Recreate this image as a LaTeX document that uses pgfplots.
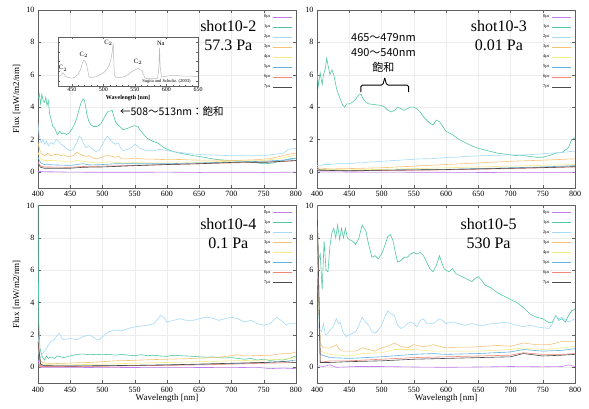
\documentclass[border=0pt]{standalone}
\usepackage{fontspec}
\setmainfont{Liberation Serif}
\newfontfamily\cjk{Noto Sans CJK JP}
\usepackage{pgfplots}
\pgfplotsset{compat=1.18}

\definecolor{c0}{RGB}{196,125,240}
\definecolor{c1}{RGB}{80,200,160}
\definecolor{c2}{RGB}{165,218,246}
\definecolor{c3}{RGB}{245,195,115}
\definecolor{c4}{RGB}{245,235,130}
\definecolor{c5}{RGB}{95,178,225}
\definecolor{c6}{RGB}{240,135,120}
\definecolor{c7}{RGB}{75,75,75}

\pgfplotsset{
  panel/.style={
    scale only axis, width=258pt, height=178pt,
    xmin=400, xmax=800, ymin=-1, ymax=10,
    xtick={400,450,...,800}, ytick={0,2,...,10},
    grid=major, major grid style={draw=gray!14, line width=0.4pt},
    axis line style={draw=gray!75!black, line width=0.5pt},
    tick style={draw=gray!75!black, line width=0.4pt},
    major tick length=3pt, tick align=inside,
    ticklabel style={font=\fontsize{8}{9}\selectfont},
    /pgf/number format/assume math mode=true,
    legend style={draw=none, fill=none, at={(0.985,0.985)}, anchor=north east,
      font=\fontsize{4.5}{5}\selectfont, row sep=1.5pt, inner sep=0pt},
    legend plot pos=right, legend cell align=right,
    legend image code/.code={\draw[#1, line width=0.5pt] (0pt,0pt) -- (19pt,0pt);},
    every axis plot/.append style={line width=0.6pt},
    cycle list={{c0},{c1},{c2},{c3},{c4},{c5},{c6},{c7}},
    xlabel style={font=\fontsize{9}{10}\selectfont},
  },
  botxlab/.style={xlabel={Wavelength [nm]},
    xlabel style={at={(axis description cs:0.5,-0.0815)}, anchor=center}},
}

\begin{document}
\begin{tikzpicture}
\useasboundingbox (0,0) rectangle (589pt,409pt);

\node[rotate=90, font=\fontsize{9}{10}\selectfont] at (16.7pt,310pt) {Flux [mW/m2/nm]};
\node[rotate=90, font=\fontsize{9}{10}\selectfont] at (16.7pt,114.5pt) {Flux [mW/m2/nm]};

%% ---------------- shot10-2 -----------------
\begin{axis}[panel, at={(38pt,221pt)}, anchor=south west]
\addplot coordinates {(400,0.02)(450,-0.02)(500,-0.03)(550,-0.03)(600,-0.02)(650,-0.04)(700,-0.03)(750,-0.04)(800,-0.02)};
\addplot coordinates {(400,4.5)(402,4.8)(404,4.2)(406,4.8)(408,4.4)(410,4.3)(412,4.6)(414,4.1)(416,4.4)(418,3.6)(420,3.3)(423,2.8)(426,2.7)(430,2.3)(434,2.5)(437,2.35)(440,2.4)(444,2.3)(448,2.4)(452,2.6)(456,2.9)(460,3.3)(464,3.9)(467,4.3)(470,4.5)(472,4.4)(474,4.0)(476,3.5)(479,3.1)(482,2.9)(486,2.8)(490,2.8)(494,2.85)(498,3.0)(502,3.3)(506,3.6)(509,3.75)(513,3.75)(515,3.8)(517,3.5)(520,3.1)(524,2.9)(528,2.75)(532,2.6)(536,2.65)(540,2.7)(545,2.8)(550,2.85)(555,2.8)(558,2.6)(562,2.4)(566,2.2)(570,2.05)(575,1.95)(580,1.85)(585,1.8)(590,1.65)(595,1.5)(600,1.4)(610,1.25)(620,1.15)(630,1.08)(640,1.0)(650,0.95)(660,0.88)(670,0.8)(680,0.75)(690,0.72)(700,0.7)(710,0.68)(720,0.65)(730,0.6)(740,0.55)(750,0.5)(760,0.52)(770,0.6)(780,0.7)(790,0.8)(800,0.85)};
\addplot coordinates {(400,3.0)(402,2.2)(405,1.8)(408,2.0)(410,1.7)(413,1.9)(416,1.6)(420,1.8)(424,1.7)(428,2.0)(432,1.9)(436,1.7)(440,1.6)(445,1.4)(450,1.3)(455,1.4)(460,1.8)(464,2.2)(467,2.1)(470,1.8)(474,1.5)(478,1.6)(482,1.5)(486,1.35)(490,1.25)(495,1.35)(500,1.7)(504,2.0)(508,2.2)(512,2.0)(516,1.8)(520,1.7)(524,1.8)(528,1.5)(532,1.3)(536,1.35)(540,1.4)(545,1.5)(550,1.7)(554,1.6)(558,1.45)(565,1.35)(570,1.3)(580,1.3)(590,1.4)(595,1.35)(600,1.3)(610,1.25)(620,1.2)(640,1.1)(660,1.05)(680,1.02)(700,1.0)(720,1.0)(740,1.0)(750,1.0)(760,1.05)(770,1.1)(780,1.15)(790,1.4)(800,1.45)};
\addplot coordinates {(400,1.8)(403,1.3)(406,1.1)(410,1.0)(415,1.15)(420,1.0)(425,1.05)(430,1.1)(435,1.0)(440,1.05)(445,0.95)(450,0.95)(455,1.0)(460,1.2)(465,1.1)(470,1.0)(475,0.95)(480,1.0)(485,0.85)(490,0.8)(495,0.85)(500,0.9)(505,1.0)(510,1.0)(515,0.95)(520,0.9)(525,0.95)(530,0.8)(540,0.8)(550,0.85)(560,0.8)(570,0.78)(580,0.78)(600,0.75)(620,0.76)(640,0.73)(660,0.72)(680,0.72)(700,0.7)(720,0.72)(740,0.75)(760,0.82)(780,1.0)(790,1.1)(800,1.15)};
\addplot coordinates {(400,1.2)(404,0.8)(410,0.7)(420,0.7)(430,0.68)(440,0.65)(450,0.6)(460,0.7)(470,0.65)(480,0.6)(490,0.55)(500,0.58)(510,0.62)(520,0.58)(530,0.55)(550,0.58)(570,0.6)(600,0.6)(650,0.6)(700,0.65)(750,0.7)(770,0.8)(790,0.95)(800,1.05)};
\addplot coordinates {(400,0.9)(404,0.55)(410,0.45)(430,0.42)(450,0.4)(460,0.45)(470,0.5)(480,0.42)(500,0.45)(520,0.5)(550,0.5)(600,0.5)(650,0.55)(700,0.6)(750,0.65)(780,0.72)(800,0.82)};
\addplot coordinates {(400,0.6)(404,0.35)(410,0.3)(450,0.28)(470,0.33)(500,0.35)(550,0.4)(600,0.45)(650,0.5)(700,0.55)(750,0.6)(800,0.68)};
\addplot coordinates {(400,0.5)(404,0.28)(410,0.22)(450,0.22)(470,0.28)(500,0.3)(550,0.38)(600,0.45)(650,0.5)(700,0.58)(720,0.6)(750,0.58)(800,0.7)};
\legend{0μs,1μs,2μs,3μs,4μs,5μs,6μs,7μs}
\node[font=\fontsize{16}{19}\selectfont, align=center] at (axis cs:695,8.42) {shot10-2\\57.3 Pa};
\node[font=\cjk\fontsize{10.5}{12}\selectfont, anchor=west, inner sep=0pt] at (axis cs:527,3.7) {←508～513nm：飽和};
\end{axis}

%% inset
\begin{axis}[scale only axis, width=140pt, height=49pt, at={(58pt,323pt)}, anchor=south west,
  xmin=428, xmax=650, ymin=0, ymax=1,
  xtick={450,500,...,650}, minor x tick num=4, ytick={0.1,0.3,0.5,0.7,0.9}, yticklabels={},
  tick align=inside, major tick length=2pt, minor tick length=1pt,
  axis line style={draw=gray!75!black, line width=0.5pt}, tick style={draw=gray!75!black, line width=0.3pt},
  ticklabel style={font=\fontsize{6}{7}\selectfont, inner sep=1.5pt},
  /pgf/number format/assume math mode=true,
  axis background/.style={fill=white},
  xlabel={\textbf{Wavelength [nm]}}, xlabel style={font=\fontsize{6}{7}\selectfont, at={(axis description cs:0.5,0)}, yshift=-12pt, anchor=center},
  clip=true]
\addplot[gray!55, line width=0.5pt] coordinates {(430,0.2)(433,0.22)(436,0.27)(438,0.24)(440,0.19)(445,0.17)(450,0.16)(455,0.18)(460,0.24)(464,0.35)(467,0.48)(469,0.53)(471,0.5)(473,0.45)(475,0.33)(477,0.2)(480,0.17)(485,0.18)(490,0.2)(495,0.23)(500,0.27)(505,0.33)(509,0.42)(512,0.55)(514,0.7)(515.5,0.88)(516.5,0.5)(517.5,0.22)(520,0.18)(525,0.17)(530,0.18)(535,0.2)(540,0.24)(545,0.29)(550,0.33)(555,0.36)(558,0.33)(561,0.32)(563,0.25)(566,0.16)(570,0.15)(575,0.15)(580,0.15)(586,0.16)(588,0.4)(589,0.78)(590,0.4)(592,0.18)(600,0.2)(610,0.22)(620,0.21)(630,0.2)(640,0.2)(650,0.19)};
\node[font=\fontsize{6.5}{7}\selectfont] at (axis cs:436,0.36) {C$_2$};
\node[font=\fontsize{6.5}{7}\selectfont] at (axis cs:469,0.64) {C$_2$};
\node[font=\fontsize{6.5}{7}\selectfont] at (axis cs:508,0.88) {C$_2$};
\node[font=\fontsize{6.5}{7}\selectfont] at (axis cs:555,0.49) {C$_2$};
\node[font=\fontsize{6.5}{7}\selectfont] at (axis cs:591,0.86) {Na};
\node[font=\fontsize{4.5}{5}\selectfont] at (axis cs:600,0.1) {Sugita and Schultz. (2003)};
\end{axis}

%% ---------------- shot10-3 -----------------
\begin{axis}[panel, at={(317pt,221pt)}, anchor=south west]
\addplot coordinates {(400,0.0)(500,-0.02)(600,-0.03)(700,-0.05)(800,-0.05)};
\addplot coordinates {(400,6.2)(402,5.3)(405,6.1)(408,5.4)(410,6.0)(413,6.4)(415,7.0)(417,6.6)(420,6.0)(423,6.3)(426,6.0)(430,5.2)(433,4.8)(436,4.5)(440,4.1)(443,4.0)(446,4.2)(450,4.2)(455,4.3)(460,4.5)(465,4.75)(468,4.8)(472,4.5)(476,4.3)(480,4.2)(490,4.15)(500,4.1)(505,4.0)(510,3.8)(515,3.7)(520,3.8)(525,4.0)(530,3.9)(535,3.8)(540,3.9)(545,4.0)(550,4.0)(555,3.9)(560,3.7)(565,3.4)(570,3.2)(575,3.0)(580,2.9)(585,3.2)(590,3.1)(595,2.8)(600,2.5)(610,2.3)(620,2.0)(630,1.8)(640,1.6)(650,1.45)(660,1.35)(670,1.25)(680,1.15)(690,1.1)(700,1.05)(710,1.0)(720,1.0)(730,0.95)(740,0.9)(750,0.9)(760,1.0)(770,1.15)(780,1.2)(790,1.5)(795,2.0)(800,2.1)};
\addplot coordinates {(400,0.4)(405,0.35)(410,0.45)(420,0.45)(430,0.5)(440,0.5)(450,0.5)(460,0.55)(470,0.55)(480,0.6)(490,0.62)(500,0.65)(520,0.7)(540,0.75)(560,0.8)(580,0.82)(600,0.88)(620,0.92)(640,0.97)(660,1.0)(680,1.02)(700,1.05)(720,1.05)(740,1.08)(760,1.15)(780,1.2)(800,1.28)};
\addplot coordinates {(400,0.25)(420,0.18)(450,0.2)(500,0.25)(550,0.35)(600,0.45)(650,0.55)(700,0.65)(750,0.72)(800,0.8)};
\addplot coordinates {(400,0.15)(450,0.12)(500,0.15)(550,0.2)(600,0.25)(650,0.3)(700,0.35)(750,0.4)(800,0.45)};
\addplot coordinates {(400,0.12)(450,0.08)(500,0.1)(550,0.12)(600,0.15)(650,0.2)(700,0.25)(750,0.3)(800,0.38)};
\addplot coordinates {(400,0.3)(405,0.1)(450,0.06)(500,0.08)(550,0.1)(600,0.12)(650,0.16)(700,0.2)(750,0.25)(800,0.3)};
\addplot coordinates {(400,0.1)(450,0.06)(500,0.1)(550,0.12)(600,0.14)(650,0.18)(700,0.22)(750,0.26)(800,0.32)};
\legend{0μs,1μs,2μs,3μs,4μs,5μs,6μs,7μs}
\node[font=\fontsize{16}{19}\selectfont, align=center] at (axis cs:682,8.42) {shot10-3\\0.01 Pa};
\node[font=\cjk\fontsize{11}{15}\selectfont, align=center] at (axis cs:503,7.36) {465～479nm\\490～540nm\\飽和};
\draw[line width=0.9pt, rounded corners=1.5pt] (axis cs:468,4.93) -- (axis cs:468,5.36) -- (axis cs:502,5.36) -- (axis cs:505,5.8);
\draw[line width=0.9pt, rounded corners=1.5pt] (axis cs:505,5.8) -- (axis cs:508,5.36) -- (axis cs:542,5.36) -- (axis cs:542,4.93);
\end{axis}

%% ---------------- shot10-4 -----------------
\begin{axis}[panel, botxlab, at={(38pt,25.5pt)}, anchor=south west]
\addplot coordinates {(400,0.5)(403,0.0)(450,0.0)(500,-0.02)(600,0.0)(700,-0.02)(740,0.0)(760,-0.08)(780,-0.05)(800,-0.08)};
\addplot coordinates {(400,10.5)(401,3)(403,1.2)(406,0.7)(410,0.45)(413,0.7)(416,0.55)(420,0.65)(425,0.55)(430,0.7)(440,0.6)(450,0.7)(460,0.8)(470,0.82)(480,0.78)(490,0.8)(500,0.78)(510,0.8)(520,0.75)(530,0.8)(540,0.75)(550,0.72)(560,0.78)(570,0.72)(580,0.75)(590,0.7)(600,0.68)(610,0.75)(620,0.72)(630,0.7)(640,0.68)(650,0.65)(660,0.62)(670,0.65)(680,0.6)(690,0.58)(700,0.6)(710,0.55)(720,0.5)(730,0.55)(740,0.45)(750,0.5)(760,0.42)(770,0.48)(780,0.45)(790,0.55)(800,0.7)};
\addplot coordinates {(400,2.0)(403,0.5)(406,0.8)(410,1.0)(415,1.3)(420,1.6)(425,1.7)(430,2.0)(433,2.1)(437,1.8)(440,1.7)(450,1.8)(460,1.7)(470,1.9)(480,2.0)(490,1.75)(495,1.7)(500,1.9)(510,2.2)(520,2.3)(530,2.25)(540,2.4)(550,2.5)(560,2.55)(570,2.6)(580,2.7)(590,3.2)(595,3.1)(600,2.8)(610,2.9)(620,3.0)(630,2.9)(640,2.9)(650,3.0)(660,3.1)(670,3.05)(680,2.9)(690,3.0)(700,3.1)(710,3.0)(720,2.8)(730,2.9)(740,2.7)(750,2.6)(760,2.7)(770,3.1)(780,2.8)(785,2.6)(790,2.7)(800,2.7)};
\addplot coordinates {(400,1.6)(403,0.5)(406,0.3)(420,0.22)(440,0.25)(460,0.28)(480,0.3)(500,0.35)(520,0.4)(540,0.42)(560,0.45)(580,0.48)(600,0.5)(620,0.52)(640,0.55)(660,0.58)(680,0.62)(700,0.72)(710,0.78)(720,0.7)(740,0.72)(760,0.75)(780,0.85)(790,0.85)(800,0.95)};
\addplot coordinates {(400,1.3)(404,0.2)(420,0.15)(450,0.15)(500,0.2)(550,0.25)(600,0.3)(650,0.35)(700,0.4)(750,0.45)(780,0.5)(800,0.6)};
\addplot coordinates {(400,1.2)(404,0.1)(450,0.08)(500,0.1)(550,0.12)(600,0.15)(650,0.18)(700,0.22)(750,0.3)(780,0.35)(800,0.45)};
\addplot coordinates {(400,1.4)(404,0.05)(450,0.05)(500,0.06)(550,0.1)(600,0.12)(650,0.15)(700,0.2)(750,0.25)(800,0.3)};
\addplot coordinates {(400,1.6)(404,0.2)(410,0.1)(450,0.08)(500,0.1)(550,0.12)(600,0.15)(650,0.2)(700,0.25)(750,0.3)(780,0.35)(800,0.3)};
\legend{0μs,1μs,2μs,3μs,4μs,5μs,6μs,7μs}
\node[font=\fontsize{16}{19}\selectfont, align=center] at (axis cs:695,8.26) {shot10-4\\0.1 Pa};
\end{axis}

%% ---------------- shot10-5 -----------------
\begin{axis}[panel, botxlab, at={(317pt,25.5pt)}, anchor=south west]
\addplot coordinates {(400,0.1)(410,0.05)(420,0.15)(430,0.0)(460,0.05)(500,0.05)(550,0.02)(600,0.0)(650,0.02)(700,0.05)(750,0.03)(780,0.05)(790,0.15)(800,0.05)};
\addplot coordinates {(400,10.5)(402,6.6)(405,7.0)(408,4.8)(411,7.8)(414,6.0)(417,5.9)(420,7.5)(423,8.3)(426,8.6)(429,8.0)(432,8.8)(435,7.9)(438,8.6)(441,8.0)(444,8.6)(447,8.0)(450,7.9)(455,7.8)(460,7.6)(465,8.0)(470,8.8)(473,8.6)(476,8.4)(480,7.6)(485,6.8)(490,6.9)(495,6.7)(500,7.0)(505,7.5)(510,8.1)(514,8.2)(518,7.8)(522,7.0)(525,6.5)(530,6.6)(535,6.8)(540,6.8)(545,7.0)(550,7.1)(555,7.0)(560,7.1)(565,6.9)(570,6.5)(575,6.1)(580,5.9)(585,6.3)(590,6.9)(593,6.5)(597,6.1)(600,6.0)(605,5.9)(610,6.1)(615,5.8)(620,5.7)(630,5.5)(640,5.3)(645,5.5)(650,5.6)(655,5.4)(660,5.1)(670,4.9)(680,4.6)(690,4.4)(700,4.2)(710,4.0)(720,3.7)(730,3.3)(740,3.1)(750,3.0)(760,2.75)(765,2.8)(770,3.2)(775,2.9)(780,3.0)(785,2.8)(790,3.2)(795,3.5)(800,3.6)};
\addplot coordinates {(400,10.5)(403,2.4)(407,2.2)(410,2.7)(413,2.0)(417,2.1)(420,2.3)(425,2.5)(430,3.0)(433,2.7)(436,2.8)(440,2.2)(445,1.9)(450,2.0)(455,2.1)(460,2.2)(465,2.6)(470,3.1)(475,2.8)(480,2.6)(485,2.2)(490,2.1)(495,2.3)(500,2.6)(505,3.1)(510,3.5)(515,3.3)(520,3.2)(525,2.6)(530,2.4)(535,2.5)(540,2.7)(545,2.8)(550,2.7)(555,2.5)(560,2.9)(565,3.0)(570,2.7)(580,2.7)(590,3.0)(595,2.9)(600,2.7)(610,2.8)(620,2.7)(630,2.6)(640,2.7)(650,2.6)(660,2.6)(670,2.7)(680,2.7)(690,2.8)(700,2.7)(710,2.6)(720,2.5)(730,2.6)(740,2.5)(750,2.45)(760,2.4)(765,2.7)(770,3.2)(775,3.0)(780,3.1)(790,2.8)(800,3.0)};
\addplot coordinates {(400,8)(405,1.5)(410,1.2)(420,1.2)(430,1.4)(435,1.1)(440,1.0)(450,1.0)(460,1.0)(470,1.2)(480,1.1)(490,1.0)(500,1.2)(510,1.3)(520,1.5)(530,1.3)(540,1.2)(550,1.4)(560,1.3)(570,1.3)(580,1.4)(590,1.3)(600,1.2)(620,1.25)(640,1.25)(660,1.3)(680,1.35)(700,1.3)(720,1.5)(740,1.4)(760,1.4)(780,1.6)(800,1.6)};
\addplot coordinates {(400,7)(405,1.0)(420,0.8)(450,0.7)(470,0.85)(500,0.9)(520,1.1)(550,1.1)(580,1.0)(600,1.0)(650,1.0)(700,1.1)(720,1.2)(750,1.1)(780,1.2)(800,1.3)};
\addplot coordinates {(400,9)(405,0.8)(420,0.6)(450,0.55)(500,0.65)(550,0.8)(580,0.85)(600,0.8)(650,0.85)(700,0.95)(720,1.1)(750,1.0)(780,1.05)(800,1.15)};
\addplot coordinates {(400,10.5)(405,0.3)(420,0.4)(450,0.4)(500,0.5)(550,0.6)(600,0.65)(650,0.7)(700,0.75)(720,0.9)(750,0.8)(780,0.8)(800,0.85)};
\addplot coordinates {(400,10.5)(405,0.3)(420,0.3)(450,0.35)(500,0.4)(550,0.5)(600,0.55)(650,0.6)(700,0.65)(720,0.85)(750,0.7)(780,0.75)(800,0.8)};
\legend{0μs,1μs,2μs,3μs,4μs,5μs,6μs,7μs}
\node[font=\fontsize{16}{19}\selectfont, align=center] at (axis cs:666,8.26) {shot10-5\\530 Pa};
\end{axis}
\end{tikzpicture}
\end{document}
